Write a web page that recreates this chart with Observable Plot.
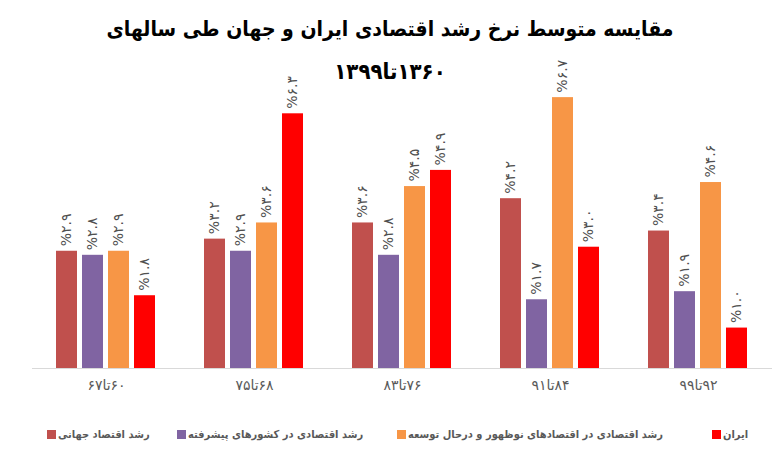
<!DOCTYPE html>
<html>
<head>
<meta charset="utf-8">
<script src="https://cdn.jsdelivr.net/npm/d3@7"></script>
<script src="https://cdn.jsdelivr.net/npm/@observablehq/plot@0.6"></script>
<style>
  html, body { margin: 0; padding: 0; background: #fff; }
  #wrap { position: relative; width: 780px; height: 470px; overflow: hidden; font-family: "DejaVu Sans", sans-serif; }
  #chart { position: absolute; left: 0; top: 0; }
  .title { position: absolute; left: 0; width: 780px; text-align: center; direction: rtl; font-weight: bold; color: #000; font-family: "DejaVu Sans Condensed", "DejaVu Sans", sans-serif; }
  #t1 { top: 17px; font-size: 21px; }
  #t2 { top: 59px; font-size: 22px; }
  .leg { position: absolute; top: 428px; display: flex; align-items: center; font-size: 11px; font-weight: bold; color: #595959; white-space: nowrap; font-family: "DejaVu Sans Condensed", "DejaVu Sans", sans-serif; }
  .leg .sw { width: 9px; height: 9px; margin-right: 2px; }
  .leg .tx { direction: rtl; }
  .vlab text { letter-spacing: 1.5px; }
</style>
</head>
<body>
<div id="wrap">
  <div id="chart"></div>
  <div class="title" id="t1"></div>
  <div class="title" id="t2"></div>
</div>
<script>
const titleLine1 = "مقایسه متوسط نرخ رشد اقتصادی ایران و جهان طی سالهای";
const titleLine2 = "۱۳۶۰تا۱۳۹۹";
const categories = ["۶۰تا۶۷", "۶۸تا۷۵", "۷۶تا۸۳", "۸۴تا۹۱", "۹۲تا۹۹"];
const series = [
  "رشد اقتصاد جهانی",
  "رشد اقتصادی در کشورهای پیشرفته",
  "رشد اقتصادی در اقتصادهای نوظهور و درحال توسعه",
  "ایران"
];
const world    = [2.9, 3.2, 3.6, 4.2, 3.4];
const advanced = [2.8, 2.9, 2.8, 1.7, 1.9];
const emerging = [2.9, 3.6, 4.5, 6.7, 4.6];
const iran     = [1.8, 6.3, 4.9, 3.0, 1.0];
const colors = ["#C0504D", "#8064A2", "#F79646", "#FF0000"];
const legendLeft = [47, 177, 397, 712];

const valuesBySeries = [world, advanced, emerging, iran];
const table = [];
categories.forEach((c, i) => {
  series.forEach((s, j) => {
    table.push({cat: c, ser: s, value: valuesBySeries[j][i]});
  });
});

const fa = "۰۱۲۳۴۵۶۷۸۹";
const toFa = str => String(str).replace(/[0-9]/g, d => fa[+d]);
const fmtVal = v => "%" + toFa(v.toFixed(1));

document.getElementById("t1").textContent = titleLine1;
document.getElementById("t2").textContent = titleLine2;

const plot = Plot.plot({
  width: 780,
  height: 470,
  marginLeft: 32,
  marginRight: 8,
  marginTop: 85,
  marginBottom: 102,
  style: {fontFamily: "DejaVu Sans, sans-serif", background: "transparent"},
  fx: {domain: categories, padding: 0, axis: "bottom", label: null, tickSize: 0, tickPadding: 12,
       tickFormat: d => "\u202B" + d + "\u202C"},
  x: {domain: series, paddingInner: 0.19, paddingOuter: 0.9, axis: null},
  y: {domain: [0, 7], axis: null},
  color: {domain: series, range: colors},
  marks: [
    Plot.barY(table, {fx: "cat", x: "ser", y: "value", fill: "ser"}),
    Plot.ruleY([0], {stroke: "#d9d9d9", strokeWidth: 1}),
    Plot.text(table, {fx: "cat", x: "ser", y: "value", text: d => fmtVal(d.value),
      rotate: -90, textAnchor: "start", lineAnchor: "middle", dy: -5,
      fill: "#505050", fontSize: 14, className: "vlab"})
  ]
});
document.getElementById("chart").appendChild(plot);
const fxAxis = plot.querySelector('[aria-label^="fx-axis"]');
if (fxAxis) { fxAxis.setAttribute("font-size", "14"); fxAxis.setAttribute("fill", "#595959"); fxAxis.style.color = "#595959"; }

const wrap = document.getElementById("wrap");
series.forEach((s, j) => {
  const item = document.createElement("div");
  item.className = "leg";
  item.style.left = legendLeft[j] + "px";
  const sw = document.createElement("span");
  sw.className = "sw";
  sw.style.background = colors[j];
  const tx = document.createElement("span");
  tx.className = "tx";
  tx.textContent = s;
  item.appendChild(sw);
  item.appendChild(tx);
  wrap.appendChild(item);
});
</script>
</body>
</html>
